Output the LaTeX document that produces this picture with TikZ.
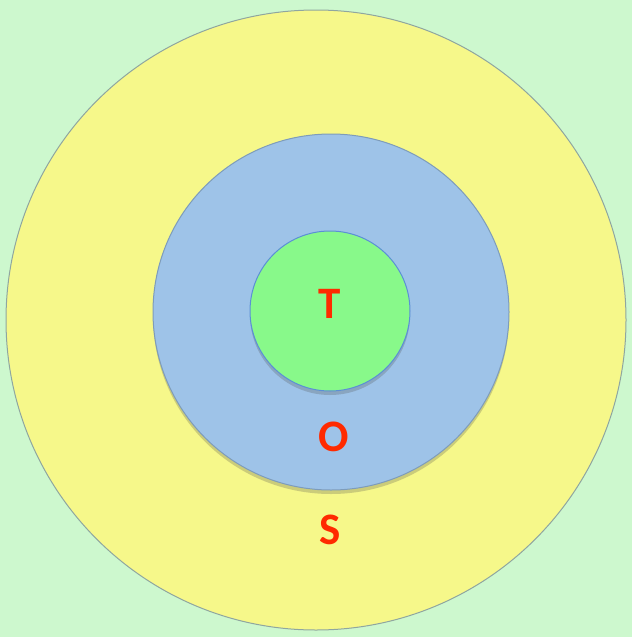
\documentclass[tikz,border=0pt]{standalone}
\usepackage{fontspec}
\setmainfont{Carlito}
\usetikzlibrary{shadows}
\definecolor{bgc}{HTML}{CDF8CE}
\definecolor{ycol}{HTML}{F6F88A}
\definecolor{bcol}{HTML}{9EC3E8}
\definecolor{gcol}{HTML}{88F98A}
\definecolor{rcol}{HTML}{FF2A00}
\definecolor{edgeg}{HTML}{8FA6A0}
\definecolor{edgeb}{HTML}{5B8FD6}
\tikzset{
  ring/.style={circle, inner sep=0pt, line width=1pt},
  lbl/.style={text=rcol, font=\fontsize{45}{45}\selectfont\bfseries, inner sep=0pt},
  sh/.style={drop shadow={shadow xshift=0pt, shadow yshift=-4pt, opacity=0.25, fill=black!70}}
}
\begin{document}
\begin{tikzpicture}[x=1pt,y=-1pt]
\fill[bgc] (0,0) rectangle (632,637);
\useasboundingbox (0,0) rectangle (632,637);
\node[ring, draw=edgeg, fill=ycol, minimum size=620pt] (S) at (316,320) {};
\node[ring, draw=bcol!80!black, fill=bcol, minimum size=356pt, sh] (O) at (331,312) {};
\node[ring, draw=edgeb, fill=gcol, minimum size=160pt, sh] (T) at (330,311) {};
\node[lbl] (tT) at (330,304) {T};
\node[lbl] (tO) at (334,437) {O};
\node[lbl] (tS) at (330,530) {S};
\end{tikzpicture}
\end{document}
